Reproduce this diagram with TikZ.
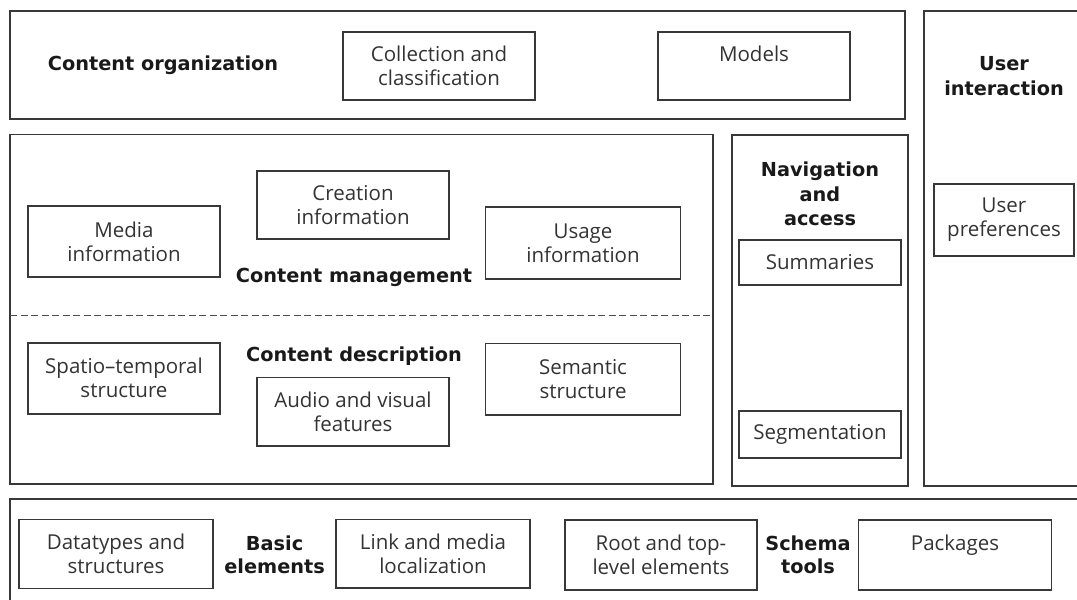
\documentclass[tikz,border=0pt]{standalone}
\usepackage{fontspec}
\setmainfont{Open Sans}
\newfontfamily\headfont{DejaVu Sans}
\begin{document}
\begin{tikzpicture}[x=1pt,y=-1pt,
  frame/.style={draw=black!78,line width=1.8pt,rectangle,inner sep=0pt},
  item/.style={draw=black!78,line width=1.5pt,rectangle,inner sep=0pt,align=center,
    font=\fontsize{20.5}{24}\selectfont,text=black!80},
  head/.style={align=center,font=\headfont\fontsize{19.3}{24.5}\selectfont\bfseries,text=black!90}]
\useasboundingbox (0,0) rectangle (1077,600);
\clip (0,0) rectangle (1077,600);

% Content organization
\node[frame,minimum width=895pt,minimum height=108pt] (corg) at (457.5,65) {};
\node[head] (corgl) at (163,65) {Content organization};
\node[item,minimum width=192pt,minimum height=68pt] (coll) at (439,66) {Collection and\\classification};
\node[item,minimum width=192pt,minimum height=68pt] (models) at (754,66) {Models\\~};

% User interaction
\node[frame,minimum width=166pt,minimum height=475pt] (uint) at (1007,248.5) {};
\node[head] (uintl) at (1004,76) {User\\interaction};
\node[item,minimum width=140pt,minimum height=72pt] (upref) at (1004,220) {User\\preferences};

% Content management and description
\node[frame,minimum width=703pt,minimum height=349.5pt] (cman) at (361.5,309.25) {};
\node[item,minimum width=192pt,minimum height=71pt] (media) at (124,241.5) {Media\\information};
\node[item,minimum width=192pt,minimum height=68pt] (creat) at (353,205) {Creation\\information};
\node[item,minimum width=195pt,minimum height=72pt] (usage) at (583,243) {Usage\\information};
\node[head,anchor=base] (cmanl) at (354,282) {Content management};
\coordinate (dl) at (10,315.6);
\coordinate (dr) at (713,315.6);
\draw[black!70,line width=1.4pt,dash pattern=on 7pt off 3.5pt] (dl) -- (dr);
\node[head,anchor=base] (cdesl) at (354,361) {Content description};
\node[item,minimum width=192pt,minimum height=71pt] (spatio) at (124,378.3) {Spatio--temporal\\structure};
\node[item,minimum width=192pt,minimum height=68.5pt] (audio) at (353,411.75) {Audio and visual\\features};
\node[item,minimum width=195pt,minimum height=71.5pt] (seman) at (583,379.3) {Semantic\\structure};

% Navigation and access
\node[frame,minimum width=176pt,minimum height=351pt] (nav) at (820,310.4) {};
\node[head] (navl) at (820,194) {Navigation\\and\\access};
\node[item,minimum width=162pt,minimum height=45pt] (summ) at (820,262.5) {Summaries};
\node[item,minimum width=162pt,minimum height=47pt] (segm) at (820,434.5) {Segmentation};

% Basic elements and schema tools
\node[frame,minimum width=1080pt,minimum height=111pt] (basic) at (550,554.5) {};
\node[item,minimum width=194pt,minimum height=69pt] (dtype) at (116,554) {Datatypes and\\structures};
\node[head,font=\headfont\fontsize{19.3}{22.5}\selectfont\bfseries] (basicl) at (274.6,555) {Basic\\elements};
\node[item,minimum width=194pt,minimum height=68.5pt] (link) at (433,553.8) {Link and media\\localization};
\node[item,minimum width=192pt,minimum height=70pt] (root) at (661,555) {Root and top-\\level elements};
\node[head,font=\headfont\fontsize{19.3}{22.5}\selectfont\bfseries] (schemal) at (808,555) {Schema\\tools};
\node[item,minimum width=193pt,minimum height=70pt] (pkgs) at (955,555) {Packages\\~};
\end{tikzpicture}
\end{document}
